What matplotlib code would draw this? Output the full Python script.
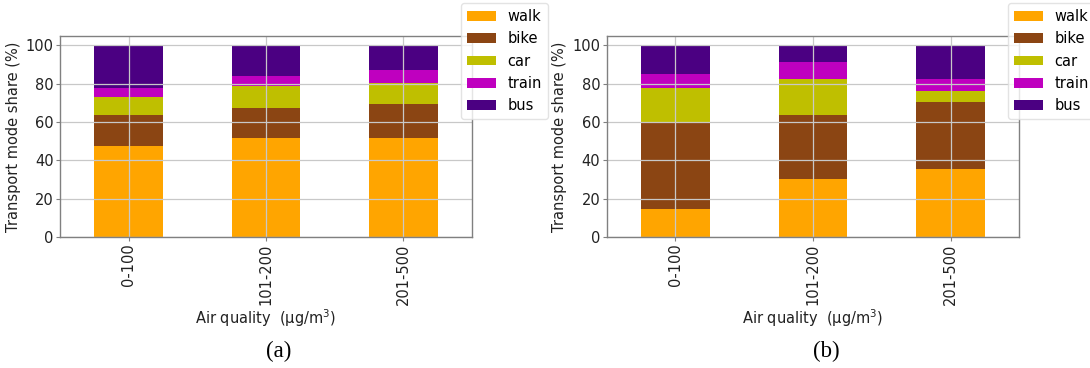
import matplotlib
matplotlib.use("Agg")
import matplotlib.pyplot as plt
import numpy as np

# Air-quality bins (x categories)
categories = ["0-100", "101-200", "201-500"]
modes = ["walk", "bike", "car", "train", "bus"]
mode_colors = ["#FFA500", "#8B4513", "#BFBF00", "#BF00BF", "#4B0082"]

# Transport mode share (%) per air-quality bin, panel (a)
walk_a = [47.6, 51.6, 51.5]
bike_a = [16.0, 15.7, 17.9]
car_a = [9.3, 11.5, 10.8]
train_a = [5.0, 5.0, 6.8]
bus_a = [22.1, 16.2, 13.0]

# Transport mode share (%) per air-quality bin, panel (b)
walk_b = [14.8, 30.4, 35.3]
bike_b = [44.5, 33.2, 35.3]
car_b = [18.4, 18.8, 5.7]
train_b = [7.5, 8.9, 5.9]
bus_b = [14.8, 8.7, 17.8]

y_ticks = [0, 20, 40, 60, 80, 100]

plt.rcParams["font.family"] = ["DejaVu Sans"]
W, H = 1090, 368
fig = plt.figure(figsize=(W / 100, H / 100), dpi=100)

FS = 10.5


def px_axes(left, top, right, bottom):
    return fig.add_axes([left / W, 1 - bottom / H, (right - left) / W, (bottom - top) / H])


def stacked(ax, series, legend_xy):
    x = np.arange(len(categories))
    base = np.zeros(len(categories))
    for name, vals, col in zip(modes, series, mode_colors):
        ax.bar(x, vals, width=0.5, bottom=base, color=col, label=name)
        base = base + np.array(vals)
    ax.set_xlim(-0.5, len(categories) - 0.5)
    ax.set_ylim(0, 105)
    ax.set_yticks(y_ticks)
    ax.set_xticks(x)
    ax.set_xticklabels(categories, rotation=90)
    ax.tick_params(labelsize=FS, labelcolor="#222222", length=2.8, width=0.8,
                   pad=1.8, color="#808080")
    for s in ax.spines.values():
        s.set_color("#808080")
        s.set_linewidth(1.0)
    ax.grid(True, color="#c8c8c8", linewidth=0.9)
    ax.set_ylabel("Transport mode share (%)", fontsize=FS, color="#222222", labelpad=3.5)
    ax.set_xlabel("Air quality  (\u03bcg/m$^3$)", fontsize=FS, color="#222222", labelpad=1.5)
    lx, ly = legend_xy
    ax.legend(loc="upper left", bbox_to_anchor=(lx / W, 1 - ly / H),
              bbox_transform=fig.transFigure, fontsize=FS,
              handlelength=2.0, handleheight=0.64, handletextpad=0.8,
              labelspacing=0.5, borderpad=0.4,
              borderaxespad=0, framealpha=0.8, edgecolor="#dddddd")


ax_a = px_axes(60, 35.7, 472, 237)
stacked(ax_a, [walk_a, bike_a, car_a, train_a, bus_a], (461, 3.3))

ax_b = px_axes(606.7, 35.7, 1019.3, 237)
stacked(ax_b, [walk_b, bike_b, car_b, train_b, bus_b], (1008, 3.3))

fig.text(278.3 / W, 1 - 351.7 / H, "(a)", ha="center", va="center",
         family="Liberation Serif", fontsize=16.5)
fig.text(826 / W, 1 - 351.7 / H, "(b)", ha="center", va="center",
         family="Liberation Serif", fontsize=16.5)

fig.savefig("out.png", dpi=100)
